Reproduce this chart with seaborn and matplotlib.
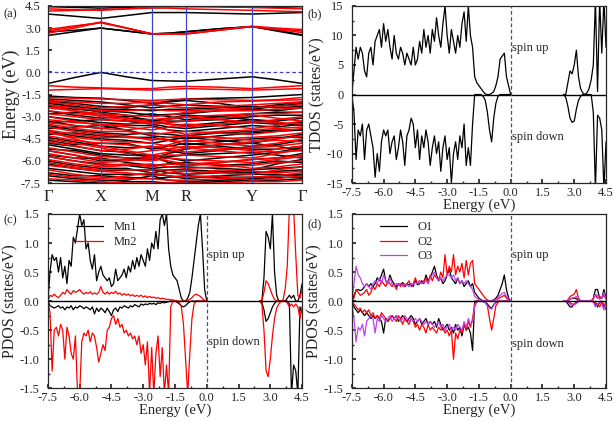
"""Band structure, TDOS and PDOS panels (spin up / spin down)."""

import matplotlib
matplotlib.use("Agg")
import matplotlib.pyplot as plt
import numpy as np
import pandas as pd
import seaborn as sns
from matplotlib.ticker import AutoMinorLocator

# ---- band structure (a) ----
K_PATH = [0.0, 0.105, 0.209, 0.309, 0.409, 0.475, 0.542, 0.672, 0.803, 0.90, 1.0]
K_TICKS = [0.0, 0.209, 0.409, 0.542, 0.803, 1.0]
K_LABELS = ["Γ", "X", "M", "R", "Y", "Γ"]

BANDS_UP = [
    [4.45, 4.4, 4.35, 4.4, 4.45, 4.45, 4.45, 4.45, 4.4, 4.4, 4.45],
    [3.95, 3.8, 3.65, 3.85, 4.05, 4.05, 4.05, 4.0, 3.95, 4.0, 4.05],
    [2.75, 2.85, 3.0, 2.8, 2.6, 2.65, 2.75, 2.95, 3.1, 2.85, 2.55],
    [2.5, 2.75, 3.0, 2.8, 2.6, 2.65, 2.75, 2.95, 3.1, 2.8, 2.5],
    [-0.75, -0.35, 0.0, -0.3, -0.55, -0.58, -0.6, -0.45, -0.3, -0.5, -0.75],
    [-1.6, -1.7, -1.75, -1.9, -2.1, -1.95, -1.8, -1.75, -1.7, -1.6, -1.5],
    [-1.8, -1.9, -2.0, -2.2, -2.4, -2.3, -2.2, -2.3, -2.5, -2.3, -2.1],
    [-1.95, -2.1, -2.3, -2.4, -2.2, -2.0, -1.9, -2.1, -2.4, -2.2, -2.0],
    [-2.1, -2.3, -2.5, -2.5, -2.6, -2.5, -2.5, -2.4, -2.3, -2.4, -2.3],
    [-2.3, -2.5, -2.6, -2.7, -2.9, -2.85, -2.8, -2.6, -2.5, -2.6, -2.4],
    [-2.6, -2.9, -3.1, -3.0, -2.8, -3.0, -3.2, -3.0, -2.8, -2.7, -2.7],
    [-2.8, -2.7, -2.8, -3.1, -3.2, -3.3, -3.3, -3.2, -3.0, -2.9, -2.9],
    [-3.0, -3.2, -3.4, -3.5, -3.3, -3.5, -3.6, -3.4, -3.2, -3.3, -3.1],
    [-3.3, -3.6, -3.8, -3.6, -3.6, -3.9, -4.0, -3.8, -3.6, -3.7, -3.5],
    [-3.4, -3.3, -3.2, -3.3, -3.5, -3.7, -3.8, -3.6, -3.4, -3.5, -3.4],
    [-3.6, -3.9, -4.1, -4.2, -4.1, -4.2, -4.3, -4.1, -4.0, -3.9, -3.9],
    [-3.8, -3.7, -3.6, -3.9, -4.3, -4.4, -4.5, -4.3, -4.1, -4.0, -3.9],
    [-4.0, -4.3, -4.5, -4.6, -4.8, -4.6, -4.4, -4.6, -4.8, -4.5, -4.2],
    [-4.2, -4.1, -4.3, -4.4, -4.4, -4.6, -4.9, -4.7, -4.5, -4.4, -4.4],
    [-4.4, -4.7, -5.0, -5.1, -5.0, -5.3, -5.5, -5.3, -5.0, -4.9, -4.6],
    [-4.6, -4.9, -4.8, -4.8, -5.2, -5.0, -4.8, -5.0, -5.2, -5.2, -5.0],
    [-4.9, -5.2, -5.5, -5.6, -5.6, -5.8, -6.0, -5.8, -5.6, -5.4, -5.1],
    [-5.2, -5.3, -5.6, -5.8, -5.9, -5.7, -5.6, -5.5, -5.4, -5.6, -5.8],
    [-5.3, -5.6, -6.0, -5.9, -5.7, -6.1, -6.3, -6.1, -5.9, -5.8, -5.5],
    [-5.6, -5.8, -5.8, -6.1, -6.3, -6.2, -6.1, -6.3, -6.2, -6.0, -6.1],
    [-5.7, -6.0, -6.2, -6.3, -6.5, -6.4, -6.4, -6.5, -6.6, -6.2, -5.9],
    [-6.0, -6.3, -6.5, -6.5, -6.8, -6.6, -6.6, -6.7, -6.8, -6.7, -6.6],
    [-6.2, -6.5, -6.7, -6.6, -6.6, -6.8, -6.9, -6.8, -6.6, -6.5, -6.4],
    [-6.5, -6.7, -6.9, -6.9, -6.9, -7.0, -7.2, -7.0, -6.9, -6.9, -7.0],
    [-6.8, -7.0, -7.0, -7.1, -7.2, -7.1, -7.0, -7.1, -7.1, -7.0, -6.9],
    [-7.0, -7.2, -7.3, -7.3, -7.0, -7.3, -7.4, -7.3, -7.2, -7.1, -7.1],
    [-7.3, -7.4, -7.5, -7.4, -7.4, -7.5, -7.5, -7.4, -7.3, -7.3, -7.2],
    [-2.0, -2.4, -2.7, -2.9, -3.3, -3.1, -2.9, -3.0, -3.2, -3.4, -3.6],
    [-4.8, -5.0, -5.3, -5.4, -5.8, -5.5, -5.2, -4.9, -4.8, -5.0, -5.3],
]
BANDS_DOWN = [
    [4.15, 4.2, 4.25, 4.3, 4.35, 4.35, 4.3, 4.25, 4.2, 4.15, 4.1],
    [4.3, 4.25, 4.2, 4.3, 4.45, 4.5, 4.5, 4.45, 4.4, 4.35, 4.3],
    [2.65, 3.0, 3.4, 3.0, 2.6, 2.6, 2.6, 2.85, 3.1, 2.9, 2.7],
    [2.8, 3.1, 3.4, 3.0, 2.6, 2.6, 2.6, 2.85, 3.1, 2.95, 2.8],
    [2.9, 3.15, 3.35, 3.0, 2.62, 2.62, 2.62, 2.87, 3.12, 3.0, 2.9],
    [-0.9, -1.0, -1.05, -1.1, -1.1, -1.0, -0.95, -1.0, -1.1, -1.0, -0.9],
    [-1.2, -1.15, -1.1, -1.15, -1.2, -1.15, -1.1, -1.15, -1.2, -1.15, -1.1],
    [-1.7, -1.75, -1.8, -1.85, -1.9, -1.85, -1.8, -1.85, -1.9, -1.85, -1.7],
    [-1.9, -2.0, -2.1, -2.1, -2.0, -2.1, -2.2, -2.0, -1.95, -1.9, -1.85],
    [-2.0, -2.2, -2.4, -2.3, -2.2, -2.3, -2.4, -2.3, -2.2, -2.1, -2.0],
    [-2.2, -2.4, -2.6, -2.6, -2.5, -2.6, -2.6, -2.5, -2.4, -2.3, -2.2],
    [-2.4, -2.6, -2.8, -2.9, -3.0, -2.9, -2.7, -2.6, -2.6, -2.5, -2.4],
    [-2.6, -2.8, -2.9, -3.1, -3.4, -3.2, -3.0, -2.9, -2.8, -2.8, -2.7],
    [-2.8, -3.0, -3.2, -3.3, -3.2, -3.1, -3.0, -3.2, -3.4, -3.2, -3.0],
    [-3.0, -3.3, -3.6, -3.5, -3.4, -3.5, -3.7, -3.5, -3.3, -3.4, -3.5],
    [-3.2, -3.4, -3.5, -3.7, -3.9, -3.7, -3.5, -3.6, -3.8, -3.6, -3.3],
    [-3.4, -3.6, -3.8, -3.9, -3.7, -3.9, -4.2, -4.0, -3.9, -3.8, -3.7],
    [-3.5, -3.8, -4.0, -4.0, -4.2, -4.1, -4.0, -4.1, -4.2, -4.0, -3.8],
    [-3.7, -4.0, -4.2, -4.3, -4.6, -4.4, -4.3, -4.4, -4.6, -4.5, -4.3],
    [-3.9, -4.2, -4.4, -4.4, -4.5, -4.6, -4.7, -4.5, -4.4, -4.3, -4.1],
    [-4.1, -4.4, -4.6, -4.7, -4.8, -5.0, -5.1, -4.9, -4.7, -4.6, -4.7],
    [-4.3, -4.6, -4.8, -4.9, -5.1, -4.9, -4.6, -4.8, -5.0, -4.8, -4.5],
    [-4.5, -4.8, -5.1, -5.5, -5.3, -5.2, -5.0, -5.1, -5.3, -5.4, -5.3],
    [-4.7, -5.0, -5.3, -5.2, -5.0, -5.2, -5.4, -5.2, -5.1, -5.0, -4.8],
    [-5.1, -5.4, -5.7, -5.8, -5.7, -5.6, -5.6, -5.7, -5.8, -5.5, -5.2],
    [-5.3, -5.6, -5.9, -5.9, -6.0, -5.8, -5.9, -6.0, -6.1, -5.9, -5.7],
    [-5.5, -5.8, -6.1, -6.0, -5.8, -6.0, -6.2, -6.1, -5.9, -5.8, -5.6],
    [-5.7, -6.0, -6.3, -6.2, -6.4, -6.2, -6.3, -6.2, -6.5, -6.4, -6.2],
    [-5.9, -6.2, -6.4, -6.3, -6.2, -6.4, -6.5, -6.4, -6.3, -6.1, -6.0],
    [-6.1, -6.4, -6.6, -6.6, -6.6, -6.6, -6.9, -6.6, -6.7, -6.8, -6.7],
    [-6.3, -6.5, -6.7, -6.8, -7.0, -6.8, -6.7, -6.8, -6.9, -6.6, -6.4],
    [-6.6, -6.9, -7.1, -7.2, -7.2, -7.3, -7.3, -7.2, -7.1, -7.0, -6.8],
    [-6.9, -7.1, -7.2, -7.0, -6.8, -7.0, -7.1, -7.0, -7.3, -7.2, -7.0],
    [-7.2, -7.3, -7.4, -7.5, -7.5, -7.5, -7.5, -7.5, -7.4, -7.4, -7.3],
    [-2.2, -2.6, -3.0, -3.2, -3.5, -3.4, -3.3, -3.1, -2.9, -3.1, -3.3],
    [-4.0, -4.5, -5.0, -5.3, -5.6, -5.4, -5.1, -5.3, -5.5, -5.2, -5.0],
]

# ---- DOS: valence part sampled -7.5..0.0 eV, conduction part 2.5..4.5 eV (0.1 eV) ----
TDOS_UP_VB = [
    0, 4, 8, 6, 8, 7, 4, 3, 7, 8, 5, 9, 10, 11, 8, 12, 9, 11, 8, 6,
    10, 7, 6, 8, 7, 5, 7, 6, 5, 8, 5, 6, 9, 7, 11, 8, 10, 7, 11, 9,
    13, 10, 8, 12, 15, 10, 7, 11, 9, 7, 10, 8, 12, 14, 9, 15, 10, 8, 3, 2,
    1.5, 1.0, 0.5, 0.1, 0, 0, 0.2, 0.5, 1.5, 3, 6, 6.5, 7, 3, 1.5, 0,
]
TDOS_UP_CB = [0, 0, 2, 4, 3.5, 5, 7.5, 3, 1, 0.3, 0, 0.3, 1, 2.5, 5, 16, 0.5, 16, 7, 16, 8]
TDOS_DN_VB = [
    0, -3, -11, -6, -7, -5, -11, -6, -5, -7, -9, -14, -10, -13, -8, -6, -7, -6, -10, -8,
    -7, -11, -9, -6, -8, -12, -7, -6, -4, -5, -9, -6, -11, -7, -9, -6, -8, -12, -9, -7,
    -10, -8, -13, -9, -7, -11, -9, -15, -10, -8, -11, -7, -9, -5, -12, -9, -12, -5, 0, 0,
    0, 0, -0.3, -1, -3, -6, -8, -4, -1.5, -0.3, 0, 0, 0, 0, 0, 0,
]
TDOS_DN_CB = [0, -0.5, -2, -4, -4.7, -4.5, -2.5, -1, -0.3, 0, 0, 0, 0, 0, -3, -16, -3.5, -4, -6, -16, -8]

MN1_UP_VB = [
    0, 0.5, 0.8, 0.7, 0.75, 0.5, 0.75, 0.4, 0.6, 0.3, 0.7, 0.6, 1.1, 1.0, 1.25, 1.5, 1.3, 1.4, 0.9, 1.0,
    0.7, 0.55, 0.8, 0.35, 0.5, 0.6, 0.45, 0.4, 0.35, 0.4, 0.25, 0.3, 0.55, 0.35, 0.4, 0.45, 0.55, 0.4, 0.6, 0.5,
    0.7, 0.55, 0.75, 0.6, 0.8, 0.7, 0.6, 0.9, 0.7, 1.0, 0.9, 1.2, 0.9, 1.4, 1.5, 1.3, 1.5, 0.9, 0.6, 0.45,
    0.4, 0.35, 0.2, 0.05, 0, 0, 0.05, 0.15, 0.4, 0.7, 1.0, 1.3, 1.5, 0.9, 0.2, 0,
]
MN1_UP_CB = [0, 0, 0.4, 1.2, 1.1, 0.9, 1.5, 0.5, 0.1, 0, 0, 0, 0, 0.05, 0.1, 0.05, 0.1, 0, 0, 0.1, 0.3]
MN1_DN_VB = [
    0, -0.08, -0.1, -0.12, -0.1, -0.08, -0.12, -0.1, -0.15, -0.1, -0.12, -0.08, -0.15, -0.1, -0.12, -0.08, -0.1, -0.13, -0.1, -0.12,
    -0.15, -0.1, -0.22, -0.12, -0.18, -0.12, -0.15, -0.2, -0.12, -0.18, -0.25, -0.15, -0.12, -0.18, -0.1, -0.12, -0.08, -0.1, -0.12, -0.08,
    -0.1, -0.06, -0.08, -0.1, -0.05, -0.07, -0.05, -0.06, -0.04, -0.05, -0.04, -0.06, -0.03, -0.04, -0.02, -0.03, -0.02, -0.01, 0, 0,
    0, -0.02, -0.05, -0.08, -0.1, -0.08, -0.04, -0.01, 0, 0, 0, 0, 0, 0, 0, 0,
]
MN1_DN_CB = [0, -0.02, -0.15, -0.35, -0.3, -0.2, -0.1, -0.04, 0, 0, 0, 0, 0, 0, -0.05, -1.6, -1.1, -1.2, -1.6, -0.1, -0.2]
MN2_UP_VB = [
    0, 0.1, 0.08, 0.12, 0.08, 0.06, 0.1, 0.15, 0.12, 0.2, 0.15, 0.12, 0.18, 0.15, 0.17, 0.2, 0.15, 0.12, 0.15, 0.13,
    0.16, 0.12, 0.14, 0.12, 0.15, 0.25, 0.15, 0.12, 0.16, 0.12, 0.15, 0.13, 0.17, 0.12, 0.14, 0.1, 0.13, 0.1, 0.12, 0.09,
    0.11, 0.08, 0.1, 0.08, 0.1, 0.07, 0.09, 0.06, 0.08, 0.06, 0.07, 0.05, 0.06, 0.04, 0.05, 0.04, 0.03, 0.03, 0.02, 0.02,
    0.01, 0, 0, 0, 0, 0, 0.01, 0.03, 0.06, 0.1, 0.12, 0.1, 0.08, 0.04, 0.01, 0,
]
MN2_UP_CB = [0, 0, 0.15, 0.35, 0.3, 0.2, 0.1, 0.03, 0, 0, 0, 0.02, 0.2, 0.6, 1.6, 1.6, 1.6, 0.8, 0.1, 0.05, 0.2]
MN2_DN_VB = [
    0, -0.2, -1.2, -0.5, -0.45, -0.6, -0.4, -0.5, -1.0, -0.45, -0.6, -0.9, -1.0, -0.6, -1.6, -1.6, -0.7, -0.55, -0.6, -0.5,
    -0.7, -0.55, -0.6, -0.8, -1.05, -0.9, -0.75, -0.85, -0.5, -0.45, -0.3, -0.25, -0.4, -0.3, -0.45, -0.4, -0.55, -0.5, -0.6, -0.55,
    -0.65, -0.6, -0.75, -0.6, -0.9, -0.75, -1.1, -0.7, -1.6, -0.8, -1.6, -0.9, -0.6, -1.3, -0.8, -1.6, -1.1, -1.6, -0.1, 0,
    0, 0, -0.02, -0.1, -0.4, -1.0, -1.6, -0.9, -0.3, -0.05, 0, 0, 0, 0, 0, 0,
]
MN2_DN_CB = [0, -0.05, -0.5, -1.2, -1.3, -1.0, -0.6, -0.3, -0.12, -0.05, -0.01, 0, 0, -0.03, -0.1, -0.05, -0.1, -0.05, -0.1, -0.3, -0.1]

O1_UP_VB = [
    0, 0.1, 0.18, 0.2, 0.18, 0.2, 0.25, 0.3, 0.25, 0.3, 0.25, 0.3, 0.4, 0.35, 0.45, 0.55, 0.35, 0.3, 0.45, 0.35,
    0.3, 0.25, 0.3, 0.28, 0.32, 0.25, 0.3, 0.28, 0.3, 0.25, 0.35, 0.28, 0.3, 0.35, 0.3, 0.45, 0.35, 0.4, 0.5, 0.6,
    0.45, 0.35, 0.4, 0.3, 0.35, 0.45, 0.55, 0.4, 0.35, 0.3, 0.4, 0.3, 0.35, 0.25, 0.3, 0.35, 0.25, 0.3, 0.15, 0.1,
    0.05, 0.02, 0.01, 0, 0, 0, 0.01, 0.02, 0.05, 0.1, 0.2, 0.3, 0.45, 0.2, 0.05, 0,
]
O1_UP_CB = [0, 0, 0.01, 0.03, 0.05, 0.05, 0.04, 0.01, 0, 0, 0, 0, 0, 0, 0.05, 0.2, 0.2, 0.05, 0.05, 0.2, 0.05]
O2_UP_VB = [
    0, 0.05, 0.2, 0.15, 0.1, 0.12, 0.15, 0.2, 0.1, 0.15, 0.25, 0.2, 0.3, 0.25, 0.35, 0.3, 0.25, 0.35, 0.3, 0.25,
    0.3, 0.2, 0.3, 0.25, 0.3, 0.25, 0.3, 0.35, 0.25, 0.3, 0.4, 0.3, 0.35, 0.3, 0.35, 0.4, 0.3, 0.45, 0.35, 0.45,
    0.4, 0.35, 0.5, 0.4, 0.8, 0.45, 0.6, 0.5, 0.8, 0.45, 0.6, 0.5, 0.65, 0.4, 0.7, 0.45, 0.65, 0.7, 0.3, 0.25,
    0.2, 0.15, 0.1, 0.05, 0.02, 0, 0, 0.01, 0.02, 0.04, 0.06, 0.08, 0.1, 0.05, 0.02, 0,
]
O2_UP_CB = [0, 0, 0.02, 0.08, 0.1, 0.12, 0.2, 0.05, 0.01, 0, 0, 0, 0, 0, 0.05, 0.1, 0.05, 0.08, 0.05, 0.1, 0.03]
O3_UP_VB = [
    0, 0.3, 0.6, 0.45, 0.4, 0.3, 0.25, 0.3, 0.25, 0.2, 0.3, 0.35, 0.3, 0.4, 0.3, 0.45, 0.35, 0.3, 0.4, 0.3,
    0.25, 0.3, 0.28, 0.3, 0.25, 0.3, 0.28, 0.25, 0.3, 0.28, 0.32, 0.3, 0.35, 0.3, 0.32, 0.35, 0.3, 0.4, 0.45, 0.5,
    0.4, 0.35, 0.4, 0.35, 0.4, 0.45, 0.45, 0.4, 0.45, 0.35, 0.4, 0.3, 0.35, 0.3, 0.35, 0.3, 0.25, 0.2, 0.08, 0.05,
    0.02, 0.01, 0, 0, 0, 0, 0, 0.01, 0.03, 0.06, 0.1, 0.13, 0.15, 0.08, 0.02, 0,
]
O3_UP_CB = [0, 0, 0.01, 0.03, 0.05, 0.06, 0.08, 0.02, 0, 0, 0, 0, 0, 0, 0.03, 0.12, 0.1, 0.03, 0.05, 0.15, 0.03]
O1_DN_VB = [
    0, -0.1, -0.15, -0.2, -0.15, -0.2, -0.25, -0.2, -0.25, -0.3, -0.25, -0.3, -0.25, -0.3, -0.35, -0.55, -0.3, -0.35, -0.3, -0.25,
    -0.3, -0.25, -0.35, -0.3, -0.25, -0.3, -0.35, -0.3, -0.25, -0.3, -0.4, -0.35, -0.3, -0.4, -0.35, -0.3, -0.4, -0.35, -0.4, -0.35,
    -0.45, -0.3, -0.4, -0.5, -0.45, -0.4, -0.5, -0.45, -0.55, -0.4, -0.5, -0.45, -0.6, -0.4, -0.5, -0.45, -0.55, -0.85, 0, 0,
    0, 0, 0, -0.02, -0.05, -0.1, -0.12, -0.06, -0.02, 0, 0, 0, 0, 0, 0, 0,
]
O1_DN_CB = [0, 0, -0.05, -0.1, -0.1, -0.05, -0.02, 0, 0, 0, 0, 0, 0, 0, 0, -0.05, -0.1, -0.02, 0, -0.1, -0.02]
O2_DN_VB = [
    0, -0.05, -0.1, -0.15, -0.12, -0.2, -0.15, -0.2, -0.15, -0.25, -0.2, -0.3, -0.25, -0.3, -0.2, -0.25, -0.3, -0.35, -0.3, -0.25,
    -0.3, -0.35, -0.25, -0.3, -0.4, -0.3, -0.35, -0.4, -0.3, -0.35, -0.45, -0.4, -0.5, -0.4, -0.45, -0.55, -0.4, -0.5, -0.45, -0.5,
    -0.55, -0.45, -0.5, -0.45, -0.55, -0.5, -0.6, -0.5, -1.0, -0.55, -0.65, -0.5, -0.55, -0.4, -0.5, -0.35, -0.45, -0.3, -0.05, 0,
    0, 0, 0, -0.02, -0.08, -0.3, -0.5, -0.3, -0.08, -0.02, 0, 0, 0, 0, 0, 0,
]
O2_DN_CB = [0, 0, -0.01, -0.03, -0.05, -0.06, -0.04, -0.01, 0, 0, 0, 0, 0, 0, 0, -0.03, -0.05, -0.1, -0.02, -0.05, -0.15]
O3_DN_VB = [
    0, -0.3, -0.7, -0.45, -0.5, -0.4, -0.6, -0.35, -0.3, -0.25, -0.3, -0.55, -0.3, -0.35, -0.25, -0.3, -0.35, -0.3, -0.25, -0.35,
    -0.3, -0.25, -0.3, -0.35, -0.3, -0.25, -0.3, -0.35, -0.3, -0.35, -0.3, -0.35, -0.3, -0.35, -0.4, -0.35, -0.4, -0.35, -0.4, -0.45,
    -0.4, -0.35, -0.45, -0.4, -0.5, -0.45, -0.4, -0.5, -0.45, -0.5, -0.4, -0.45, -0.5, -0.35, -0.45, -0.3, -0.4, -0.35, -0.1, -0.02,
    0, 0, -0.01, -0.03, -0.08, -0.12, -0.14, -0.07, -0.02, 0, 0, 0, 0, 0, 0, 0,
]
O3_DN_CB = [0, 0, -0.02, -0.05, -0.08, -0.06, -0.03, 0, 0, 0, 0, 0, 0, 0, -0.02, -0.1, -0.05, -0.02, -0.05, -0.15, -0.03]

E_TICKS = [-7.5, -6.0, -4.5, -3.0, -1.5, 0.0, 1.5, 3.0, 4.5]
LINE_BLUE = "#3a45c8"
O3_COLOR = "#c040f0"


def dos_frame(series):
    """series: list of (name, spin, vb_values, cb_values) -> long DataFrame."""
    rows = []
    for name, spin, vb, cb in series:
        for seg, (e0, e1, vals) in enumerate([(-7.5, 0.0, vb), (2.5, 4.5, cb)]):
            energy = np.linspace(e0, e1, len(vals))
            for e, v in zip(energy, vals):
                rows.append({"E": e, "dos": v, "atom": name, "unit": f"{name}-{spin}-{seg}"})
    return pd.DataFrame(rows)


def style_dos_axis(ax, ylim, yticks, ylabel, up_y, down_y, fmt):
    ax.axhline(0, color="black", lw=1.0, zorder=5)
    ax.axvline(0, color=LINE_BLUE, lw=0.9, ls=(0, (3, 2)), zorder=5)
    ax.set_xlim(-7.5, 4.5)
    ax.set_ylim(*ylim)
    ax.set_xticks(E_TICKS)
    ax.set_xticklabels([f"{t:.1f}" for t in E_TICKS])
    ax.set_yticks(yticks)
    ax.set_yticklabels([fmt.format(t) for t in yticks])
    ax.xaxis.set_minor_locator(AutoMinorLocator(2))
    ax.yaxis.set_minor_locator(AutoMinorLocator(2))
    ax.tick_params(axis="x", pad=2.5)
    ax.tick_params(axis="y", pad=6)
    ax.set_xlabel("Energy (eV)", fontsize=10.5, labelpad=0)
    ax.set_ylabel(ylabel, fontsize=11.5, labelpad=1)
    ax.text(0.05, up_y, "spin up", fontsize=9, va="center")
    ax.text(0.05, down_y, "spin down", fontsize=9, va="center")


def main():
    sns.set_theme(style="ticks")
    plt.rcParams["font.family"] = ["Liberation Serif", "DejaVu Serif"]
    plt.rcParams["xtick.direction"] = "in"
    plt.rcParams["ytick.direction"] = "in"
    plt.rcParams["xtick.labelsize"] = 9
    plt.rcParams["ytick.labelsize"] = 9
    plt.rcParams["xtick.major.size"] = 3
    plt.rcParams["ytick.major.size"] = 3
    plt.rcParams["xtick.minor.size"] = 1.5
    plt.rcParams["ytick.minor.size"] = 1.5
    plt.rcParams["axes.linewidth"] = 0.9

    fig = plt.figure(figsize=(6.14, 4.22), dpi=100)
    ax_a = fig.add_axes([0.078, 0.566, 0.414, 0.42])
    ax_b = fig.add_axes([0.573, 0.566, 0.414, 0.42])
    ax_c = fig.add_axes([0.078, 0.08, 0.414, 0.413])
    ax_d = fig.add_axes([0.573, 0.08, 0.414, 0.413])

    # (a) band structure
    rows = []
    for spin, bands in [("up", BANDS_UP), ("down", BANDS_DOWN)]:
        for i, band in enumerate(bands):
            for k, e in zip(K_PATH, band):
                rows.append({"k": k, "E": e, "spin": spin, "band": f"{spin}{i}"})
    bands_df = pd.DataFrame(rows)
    sns.lineplot(data=bands_df, x="k", y="E", hue="spin", units="band",
                 estimator=None, sort=False, palette={"up": "black", "down": "red"},
                 lw=1.1, legend=False, ax=ax_a)
    for k in K_TICKS[1:-1]:
        ax_a.axvline(k, color=LINE_BLUE, lw=0.9)
    ax_a.axhline(0, color=LINE_BLUE, lw=0.9, ls=(0, (3, 2)))
    ax_a.set_xlim(0, 1)
    ax_a.set_ylim(-7.5, 4.5)
    ax_a.set_xticks(K_TICKS)
    ax_a.set_xticklabels(K_LABELS, fontsize=12)
    ax_a.tick_params(axis="x", length=0, pad=4)
    ax_a.tick_params(axis="y", pad=5)
    ax_a.set_yticks(E_TICKS)
    ax_a.set_yticklabels([f"{t:.1f}" for t in E_TICKS])
    ax_a.set_xlabel("")
    ax_a.set_ylabel("Energy (eV)", fontsize=13, labelpad=1)

    # (b) TDOS
    tdos = dos_frame([("TDOS", "up", TDOS_UP_VB, TDOS_UP_CB),
                      ("TDOS", "down", TDOS_DN_VB, TDOS_DN_CB)])
    sns.lineplot(data=tdos, x="E", y="dos", units="unit", estimator=None, sort=False,
                 color="black", lw=0.9, legend=False, ax=ax_b)
    style_dos_axis(ax_b, (-15, 15), [-15, -10, -5, 0, 5, 10, 15],
                   "TDOS (states/eV)", 7.8, -7.2, "{:.0f}")

    # (c) Mn PDOS
    mn = dos_frame([("Mn2", "up", MN2_UP_VB, MN2_UP_CB),
                    ("Mn2", "down", MN2_DN_VB, MN2_DN_CB),
                    ("Mn1", "up", MN1_UP_VB, MN1_UP_CB),
                    ("Mn1", "down", MN1_DN_VB, MN1_DN_CB)])
    sns.lineplot(data=mn, x="E", y="dos", hue="atom", units="unit", estimator=None,
                 sort=False, palette={"Mn1": "black", "Mn2": "red"}, hue_order=["Mn1", "Mn2"],
                 lw=0.9, ax=ax_c)
    style_dos_axis(ax_c, (-1.5, 1.5), [-1.5, -1.0, -0.5, 0.0, 0.5, 1.0, 1.5],
                   "PDOS (states/eV)", 0.79, -0.7, "{:.1f}")
    ax_c.legend(loc="upper left", bbox_to_anchor=(0.08, 1.0), frameon=False,
                fontsize=9, handlelength=2.2, borderaxespad=0.2, labelspacing=0.2)

    # (d) O PDOS
    ox = dos_frame([("O3", "up", O3_UP_VB, O3_UP_CB),
                    ("O3", "down", O3_DN_VB, O3_DN_CB),
                    ("O2", "up", O2_UP_VB, O2_UP_CB),
                    ("O2", "down", O2_DN_VB, O2_DN_CB),
                    ("O1", "up", O1_UP_VB, O1_UP_CB),
                    ("O1", "down", O1_DN_VB, O1_DN_CB)])
    sns.lineplot(data=ox, x="E", y="dos", hue="atom", units="unit", estimator=None,
                 sort=False, palette={"O1": "black", "O2": "red", "O3": O3_COLOR},
                 hue_order=["O1", "O2", "O3"], lw=0.9, ax=ax_d)
    style_dos_axis(ax_d, (-1.5, 1.5), [-1.5, -1.0, -0.5, 0.0, 0.5, 1.0, 1.5],
                   "PDOS (states/eV)", 0.79, -0.73, "{:.1f}")
    ax_d.legend(loc="upper left", bbox_to_anchor=(0.08, 1.0), frameon=False,
                fontsize=9, handlelength=2.2, borderaxespad=0.2, labelspacing=0.2)

    for ax in (ax_a, ax_b, ax_c, ax_d):
        for side in ("top", "right"):
            ax.spines[side].set_visible(True)

    fig.text(0.005, 0.960, "(a)", fontsize=9)
    fig.text(0.50, 0.960, "(b)", fontsize=9)
    fig.text(0.005, 0.470, "(c)", fontsize=9)
    fig.text(0.50, 0.462, "(d)", fontsize=9)

    fig.savefig("out.png", dpi=100)
    plt.close(fig)


if __name__ == "__main__":
    main()
